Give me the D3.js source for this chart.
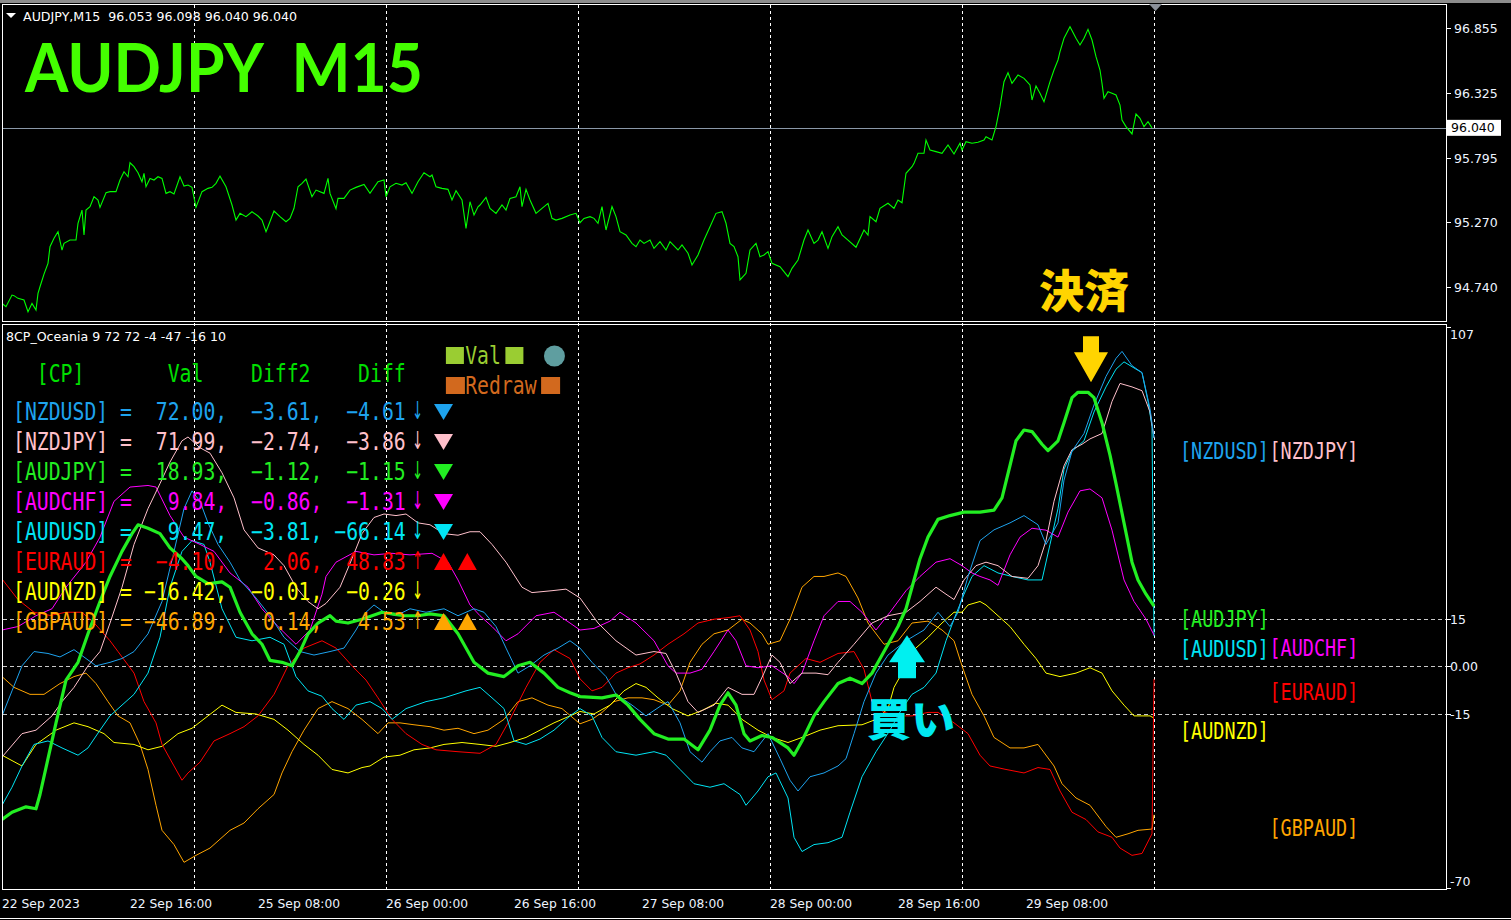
<!DOCTYPE html>
<html>
<head>
<meta charset="utf-8">
<script src="https://cdn.jsdelivr.net/npm/d3@7"></script>
<style>
html, body { margin: 0; padding: 0; background: #000; }
svg { display: block; }
text { white-space: pre; }
</style>
</head>
<body>
<div id="chart"></div>
<script>
// ---- price panel data (bar index, price) ----
const pricePoints = [[0,94.607],[2,94.580],[5,94.675],[6,94.670],[8,94.648],[11,94.634],[13,94.539],[15,94.607],[17,94.553],[18,94.689],[19,94.743],[21,94.846],[23,94.934],[24,95.070],[26,95.138],[28,95.192],[30,95.042],[31,95.097],[34,95.124],[37,95.124],[38,95.260],[40,95.369],[41,95.165],[42,95.369],[44,95.396],[46,95.478],[48,95.451],[49,95.391],[52,95.510],[54,95.519],[57,95.519],[59,95.614],[61,95.682],[63,95.641],[64,95.755],[66,95.723],[68,95.674],[70,95.600],[71,95.668],[72,95.559],[74,95.627],[76,95.614],[78,95.641],[80,95.627],[82,95.505],[84,95.519],[86,95.500],[89,95.641],[91,95.565],[93,95.573],[95,95.554],[97,95.391],[100,95.519],[103,95.546],[105,95.554],[107,95.587],[109,95.646],[112,95.559],[115,95.410],[117,95.287],[119,95.342],[122,95.315],[125,95.355],[128,95.320],[130,95.287],[132,95.192],[133,95.233],[136,95.361],[139,95.315],[142,95.274],[144,95.301],[146,95.383],[148,95.559],[150,95.587],[152,95.622],[155,95.478],[157,95.532],[161,95.505],[163,95.627],[164,95.505],[167,95.380],[168,95.464],[171,95.464],[174,95.532],[177,95.554],[181,95.578],[184,95.505],[188,95.600],[191,95.614],[192,95.478],[194,95.559],[197,95.587],[200,95.573],[202,95.592],[205,95.505],[208,95.600],[211,95.674],[214,95.641],[215,95.655],[217,95.559],[220,95.546],[223,95.538],[225,95.451],[227,95.527],[230,95.451],[232,95.219],[234,95.437],[236,95.328],[238,95.396],[239,95.410],[242,95.472],[244,95.383],[247,95.342],[250,95.410],[252,95.369],[254,95.464],[257,95.478],[259,95.559],[260,95.396],[262,95.538],[264,95.451],[267,95.342],[270,95.383],[273,95.423],[275,95.301],[277,95.287],[280,95.301],[284,95.328],[287,95.342],[289,95.266],
[291,95.301],[294,95.315],[296,95.301],[298,95.261],[300,95.397],[302,95.206],[305,95.397],[307,95.315],[309,95.192],[312,95.165],[315,95.097],[317,95.070],[319,95.124],[321,95.097],[324,95.124],[326,95.056],[329,95.111],[332,95.043],[334,95.111],[338,95.043],[340,95.084],[343,95.016],[345,94.920],[348,95.002],[351,95.124],[354,95.233],[357,95.342],[360,95.356],[362,95.261],[364,95.097],[366,95.070],[368,94.988],[369,94.798],[372,94.852],[374,95.043],[377,95.097],[379,94.988],[381,95.002],[383,95.029],[385,94.934],[389,94.907],[393,94.825],[395,94.893],[398,94.961],[401,95.124],[403,95.206],[406,95.097],[408,95.124],[410,95.192],[413,95.056],[415,95.152],[418,95.233],[420,95.165],[423,95.124],[427,95.065],[431,95.206],[433,95.165],[434,95.315],[437,95.274],[439,95.383],[443,95.424],[446,95.383],[448,95.451],[450,95.429],[452,95.669],[455,95.723],[456,95.750],[458,95.832],[461,95.832],[462,95.941],[464,95.859],[467,95.846],[470,95.832],[473,95.900],[476,95.826],[479,95.914],[480,95.859],[482,95.927],[485,95.914],[488,95.922],[491,95.941],[492,95.968],[495,95.941],[497,96.050],[499,96.213],[501,96.417],[503,96.490],[505,96.403],[508,96.471],[511,96.444],[514,96.390],[515,96.267],[517,96.382],[519,96.322],[521,96.254],[524,96.417],[526,96.512],[528,96.594],[529,96.662],[531,96.771],[534,96.866],[537,96.771],[539,96.716],[541,96.771],[543,96.844],[545,96.757],[547,96.621],[549,96.512],[550,96.403],[551,96.281],[553,96.335],[555,96.322],[557,96.308],[559,96.226],[560,96.104],[562,96.050],[565,95.990],[567,96.153],[569,96.118],[571,96.050],[573,96.090],[575,96.040]];

const priceTicks = [96.855, 96.325, 95.795, 95.270, 94.740];
const lastPrice = 96.040;
const headerText = 'AUDJPY,M15  96.053 96.098 96.040 96.040';

// ---- indicator series (bar index, value) ----
const sNZDUSD = [[0,-15.7],[5,-7.8],[10,0.1],[16,4.6],[23,4],[29,2.9],[36,5.2],[42,2.4],[47,0.1],[54,1.2],[60,2.4],[66,4.6],[73,10.2],[80,20.4],[86,36.2],[91,49.7],[95,55.3],[99,52],[103,45.2],[108,38.4],[114,32.8],[119,27.2],[127,21.5],[134,15.9],[141,9.1],[149,4.6],[156,3.5],[164,4.6],[171,5.7],[177,11.4],[182,17],[186,19.3],[191,17],[197,15.9],[204,18.1],[212,17],[221,18.1],[228,15.9],[236,18.1],[241,17],[247,12.5],[252,5.7],[258,-2.2],[264,0.1],[271,3.5],[278,5.7],[284,8],[289,5.7],[295,1.2],[302,-3.3],[307,-8.9],[315,-12.3],[322,-15.7],[330,-12.3],[333,-11.2],[339,-17.9],[344,-27],[350,-30.3],[354,-27],[359,-23.6],[365,-22.5],[370,-25.8],[376,-27],[383,-21.3],[389,-29.2],[394,-36],[398,-39.4],[404,-34.9],[411,-33.7],[418,-31.5],[422,-29.2],[426,-21.3],[431,-11.2],[437,-2.2],[443,3.5],[452,8],[461,11.4],[468,17],[474,12.5],[478,17],[483,28.3],[489,39.6],[496,43],[504,45.2],[511,47.5],[518,44.6],[522,38.4],[528,45.2],[531,58.7],[535,67.8],[541,73.4],[546,82.4],[552,91.4],[557,97.1],[560,99.3],[565,94.8],[570,92.6],[574,81.3],[576,72]];
const sNZDJPY = [[0,-28.7],[10,-21.3],[17,-20.2],[25,-15.7],[30,-11.2],[36,-6.7],[43,0.1],[49,4.6],[54,13.6],[60,24.9],[66,38.4],[73,49.7],[79,57.6],[84,64.4],[90,71.1],[93,72.3],[99,68.9],[104,67.2],[110,61],[116,53.1],[121,43],[128,37.3],[136,35.1],[141,31.7],[147,24.9],[153,20.4],[158,18.1],[162,19.8],[169,24.9],[175,33.9],[180,41.8],[186,46.9],[191,48],[197,47.5],[202,48],[208,45.2],[214,44.6],[221,41.8],[228,41.3],[234,42.4],[239,42.4],[245,38.4],[252,32.8],[260,24.9],[265,23.2],[275,23.8],[282,24.3],[289,21.5],[298,13.6],[307,8],[317,3.5],[326,4.6],[332,4],[337,-2.2],[343,-11.2],[348,-14.6],[356,-12.3],[363,-6.7],[370,-8.9],[376,-8.9],[381,-2.2],[385,3.5],[389,1.2],[394,-5.5],[400,-2.2],[407,-2.2],[413,-2.7],[418,1.2],[426,6.9],[435,13.6],[443,15.9],[452,17],[459,20.4],[467,24.9],[472,22.7],[476,21],[481,27.2],[487,31.7],[492,32.8],[498,31.7],[505,28.3],[513,27.7],[518,31.7],[522,39.6],[526,52],[531,63.2],[535,68.3],[540,70],[544,71.7],[550,73.4],[555,83.5],[559,89.2],[565,88.1],[570,86.9],[574,80.2],[576,72]];
const sAUDJPY = [[0,-48.4],[5,-46.1],[12,-44.4],[17,-45],[19,-40.5],[23,-29.2],[27,-17.9],[32,-4.4],[38,1.2],[43,10.2],[49,20.4],[54,28.3],[60,36.2],[65,41.8],[68,44.6],[73,43.5],[79,41.8],[84,37.3],[90,33.9],[93,31.7],[97,28.3],[103,26],[110,26.6],[114,24.9],[119,17],[125,10.2],[130,6.9],[134,1.8],[140,1.2],[145,0.1],[149,4.6],[153,10.2],[158,13.6],[164,15.9],[167,14.2],[173,13.6],[180,14.8],[190,17],[195,16.5],[201,15.9],[208,15.9],[214,16.5],[221,15.9],[228,10.2],[236,1.2],[243,-2.2],[251,-3.3],[258,0.1],[264,1.2],[271,-2.2],[278,-6.7],[284,-8.4],[289,-9.6],[300,-10],[307,-9.1],[313,-12.3],[319,-16.8],[326,-21.3],[333,-23],[341,-23],[348,-26.4],[354,-20.2],[359,-12.3],[363,-8.4],[367,-12.3],[371,-21.3],[374,-23.6],[380,-21.9],[385,-22.5],[393,-25.8],[396,-28.1],[400,-23.6],[406,-15.7],[411,-11.2],[418,-5.5],[424,-3.8],[430,-5.5],[435,-2.2],[441,4.6],[448,12.5],[452,18.1],[455,24.9],[459,33.9],[463,40.7],[468,46.3],[474,47.5],[481,48.6],[489,48.6],[496,49.2],[500,53.1],[504,63.3],[507,71.1],[511,74.5],[515,74],[520,70],[523,68],[528,71.1],[531,76.8],[535,84.7],[538,86.4],[543,86.4],[546,84.7],[550,76.8],[554,66.6],[557,57.6],[561,45.2],[565,32.8],[568,27.2],[572,22.7],[576,18.9]];
const sAUDCHF = [[0,11.4],[8,12.5],[17,15.9],[25,18.1],[32,24.9],[42,32.8],[49,40.7],[56,52],[64,56.5],[73,57],[77,56.5],[84,47.5],[91,40.7],[99,38.4],[106,36.2],[114,29.4],[123,24.9],[130,18.1],[138,12.5],[147,6.9],[154,11.4],[160,22.7],[162,28.3],[167,32.8],[177,36.2],[186,35.1],[195,35.6],[204,35.1],[215,35.6],[223,32.8],[228,27.2],[234,19.3],[239,15.9],[245,12.5],[252,8],[258,10.2],[267,15.9],[276,17],[284,13.6],[289,11.4],[296,11.9],[304,14.2],[309,17],[317,13.6],[326,8],[333,0.1],[337,-2.2],[344,-2.2],[350,-1],[356,4.6],[363,11.4],[367,8],[372,0.1],[378,-0.5],[385,0.1],[393,-3.3],[396,-5.5],[400,-2.2],[406,8],[411,15.9],[418,20.4],[424,20.4],[430,17],[437,11.4],[444,17],[452,23.8],[459,28.3],[467,32.8],[474,33.9],[480,31.7],[485,29.4],[489,28.3],[494,27.2],[498,25.5],[504,35.1],[509,40.7],[515,43.5],[522,42.9],[528,40.7],[533,48.6],[539,55.3],[544,55.9],[550,53.1],[555,42.9],[561,27.2],[566,20.4],[572,14.8],[576,9.8]];
const sAUDUSD = [[0,-43.9],[5,-38.2],[10,-31.5],[16,-24.7],[23,-23.6],[30,-25.8],[38,-28.1],[43,-25.8],[49,-20.2],[54,-15.7],[60,-12.3],[66,-8.9],[73,-2.2],[79,9.1],[84,24.9],[90,36.2],[95,39.6],[101,38.4],[104,32.8],[110,18.1],[117,9.1],[125,8],[134,9.1],[141,6.9],[147,-3.3],[153,-7.8],[160,-9.5],[165,-13.4],[171,-16.8],[177,-12.3],[184,-11.2],[190,-13.4],[195,-16.8],[202,-13.4],[212,-11.2],[221,-10],[232,-7.8],[239,-6.7],[245,-10],[251,-13.4],[256,-23.6],[262,-24.7],[269,-23],[276,-20.2],[284,-15.7],[289,-13.4],[295,-15.7],[300,-22.5],[307,-27],[317,-28.1],[326,-27],[332,-28.1],[339,-32.6],[346,-37.1],[354,-38.2],[361,-37.1],[369,-40.5],[372,-43.9],[378,-39.4],[383,-34.9],[387,-33.7],[393,-41.6],[396,-54],[400,-58.5],[406,-56.3],[413,-55.7],[420,-54],[424,-46.1],[430,-34.9],[437,-27],[444,-20.2],[450,-13.4],[455,-8.9],[461,-6.7],[467,-2.2],[472,8],[476,14.8],[481,22.7],[485,28.3],[491,31.7],[498,29.4],[505,28.3],[513,27.2],[520,27.2],[524,38.4],[528,49.7],[531,62.1],[535,67.8],[541,71.1],[546,80.2],[552,88.1],[557,93.7],[561,96],[567,93.7],[570,92.6],[573,83.5],[575,75.6],[576,9.5]];
const sEURAUD = [[0,27.5],[8,21],[16,17],[24,16],[32,17],[40,17],[47,13],[54,8],[58,4.6],[66,-2.2],[71,-11.2],[77,-17.9],[80,-24.7],[86,-31.5],[90,-36],[93,-33.7],[99,-30.3],[106,-23.6],[114,-21.3],[121,-19.1],[128,-15.7],[136,-8.9],[143,0.1],[151,5.7],[160,8],[167,5.7],[175,0.1],[182,-4.4],[188,-10],[195,-16.8],[202,-21.3],[210,-24.7],[217,-26.4],[228,-27],[239,-27.5],[247,-24.7],[254,-16.8],[262,-6.7],[269,1.2],[276,5.2],[284,2.4],[289,-4],[295,-7.8],[300,-6.7],[307,-2.2],[313,-0.5],[319,0.7],[326,3.5],[333,6.9],[341,10.2],[348,13.6],[356,14.8],[363,15.3],[369,15.9],[374,11.4],[378,4.6],[381,-4.4],[385,-10.6],[391,-7.8],[394,-2.2],[402,2.4],[409,1.2],[418,4],[426,4.6],[431,-1],[435,-11.2],[441,-14.6],[448,-15.7],[455,-15.7],[463,-14.6],[468,-14.6],[476,-17.9],[483,-21.3],[489,-28.1],[494,-31.5],[502,-32.6],[511,-33.7],[518,-32],[524,-32.6],[529,-39.4],[535,-46.1],[542,-48.4],[548,-52.3],[555,-54],[559,-57.4],[565,-59.7],[570,-59.1],[575,-52.9],[576,-4.1]];
const sAUDNZD = [[0,-28.1],[10,-31.5],[17,-24.7],[27,-20.2],[36,-17.9],[43,-19.1],[51,-21.3],[56,-24.1],[66,-24.7],[73,-26.4],[80,-25.3],[88,-21.3],[95,-19.6],[103,-15.7],[110,-12.3],[117,-14.6],[127,-15.1],[136,-16.8],[143,-20.2],[151,-24.7],[158,-28.1],[165,-32.6],[173,-33.7],[180,-32],[184,-31.5],[191,-28.7],[199,-28.1],[206,-26.4],[214,-25.8],[221,-24.7],[230,-24.1],[239,-24.7],[247,-25.3],[254,-24.1],[262,-22.5],[269,-20.2],[276,-17.9],[284,-15.7],[289,-14.3],[296,-15.1],[304,-12.3],[311,-7.8],[317,-5.5],[322,-6.7],[328,-10],[335,-13.4],[343,-15.7],[350,-14],[357,-11.7],[363,-12.3],[370,-16.8],[378,-20.2],[385,-22.5],[393,-24.1],[400,-22.5],[409,-20.2],[418,-18.8],[430,-18.5],[437,-16.8],[443,-13.4],[446,-6.7],[450,-2.2],[455,4.6],[463,9.1],[470,13.6],[476,17],[480,17],[483,19.3],[489,20.4],[492,19.3],[498,15.9],[504,12.5],[511,6.9],[517,2.4],[522,-2.2],[529,-3.3],[537,-2.2],[544,-0.5],[550,-2.2],[555,-7.8],[561,-12.3],[566,-15.7],[574,-15.7],[576,-16.4]];
const sGBPAUD = [[0,-3.3],[6,-6.7],[14,-8.9],[21,-8.9],[29,-5.5],[36,-3.3],[42,-2.2],[47,-5.5],[53,-11.2],[58,-15.7],[64,-17.9],[69,-24.7],[73,-32.6],[77,-43.9],[80,-51.8],[86,-56.3],[91,-61.9],[97,-59.7],[104,-57.4],[114,-51.8],[121,-49.5],[128,-45],[136,-40.5],[140,-33.7],[145,-27],[151,-20.2],[158,-13.4],[165,-11.2],[173,-13.4],[180,-16.8],[188,-21.3],[193,-17.9],[199,-17.9],[206,-18.5],[214,-19.1],[221,-20.2],[228,-19.6],[236,-21.3],[243,-20.2],[251,-16.8],[258,-11.2],[265,-10],[273,-12.3],[280,-13.4],[289,-18.2],[295,-16.8],[300,-14.6],[306,-11.2],[313,-10],[320,-10],[326,-10.6],[333,-12.3],[339,-7.8],[344,1.2],[350,6.9],[356,10.2],[363,11.4],[370,14.8],[374,13.6],[380,10.2],[383,6.9],[389,8],[394,14.8],[400,24.9],[406,28.3],[411,28.3],[418,29.4],[422,28.3],[428,21.5],[433,13.6],[441,6.9],[448,8],[455,13.6],[463,14.2],[470,11.4],[476,8],[480,0.1],[485,-8.9],[491,-15.7],[496,-22.5],[504,-25.8],[511,-25.8],[518,-24.7],[526,-31.5],[530,-37.1],[537,-41.6],[544,-43.9],[552,-50.6],[557,-54],[563,-52.9],[568,-51.8],[575,-51.4],[576,-46.9]];

// ---- table ----
const pairs = ['NZDUSD', 'NZDJPY', 'AUDJPY', 'AUDCHF', 'AUDUSD', 'EURAUD', 'AUDNZD', 'GBPAUD'];
const pairColors = ['#1ea3ee', '#ffc0cb', '#22ee22', '#ff00ff', '#00e4f4', '#ff0000', '#ffff00', '#ffa500'];
const vals = [72.00, 71.99, 18.93, 9.84, 9.47, -4.10, -16.42, -46.89];
const diff2 = [-3.61, -2.74, -1.12, -0.86, -3.81, 2.06, -0.01, 0.14];
const diffs = [-4.61, -3.86, -1.15, -1.31, -66.14, 48.83, -0.26, 4.53];
const markCount = [1, 1, 1, 1, 1, 2, 0, 2];
const series = [sNZDUSD, sNZDJPY, sAUDJPY, sAUDCHF, sAUDUSD, sEURAUD, sAUDNZD, sGBPAUD];
const drawOrder = [7, 6, 5, 4, 3, 1, 0, 2];

const indTicks = [107, 15, 0, -15, -70];
const indTickLabels = ['107', '15', '0.00', '-15', '-70'];
const levels = [15, 0, -15];
const indHeader = '8CP_Oceania 9 72 72 -4 -47 -16 10';

// ---- time axis (M15 bars, weekend skipped) ----
const timeBars = [0, 64, 128, 192, 256, 320, 384, 448, 512];
const timeLabels = ['22 Sep 2023', '22 Sep 16:00', '25 Sep 08:00', '26 Sep 00:00', '26 Sep 16:00', '27 Sep 08:00', '28 Sep 00:00', '28 Sep 16:00', '29 Sep 08:00'];
const dayBars = [96, 192, 288, 384, 480, 576];

const buyBar = 452, buyVal = 14.8;     // 買い
const exitBar = 543, exitVal = 86.4;   // 決済

const W = 1511, H = 920;
const uiFont = "'DejaVu Sans', Tahoma, sans-serif";
const monoFont = "'DejaVu Sans Mono', monospace";
const jpFont = "'Noto Sans CJK JP', sans-serif";

const x = d3.scaleLinear().domain([0, 576]).range([2, 1154]);
const yP = d3.scaleLinear().domain([94.455, 97.051]).range([322, 4]);
const yI = d3.scaleLinear().domain([-70, 107]).range([888, 327]);

const svg = d3.select('#chart').append('svg')
    .attr('width', W).attr('height', H)
    .style('background', '#000');

svg.append('rect').attr('x', 0).attr('y', 0).attr('width', W).attr('height', 3).attr('fill', '#8c8c8c');
svg.append('line').attr('x1', 0).attr('x2', W).attr('y1', 918.5).attr('y2', 918.5).attr('stroke', '#fff');

const defs = svg.append('defs');
defs.append('clipPath').attr('id', 'clipTop').append('rect')
    .attr('x', 3).attr('y', 5).attr('width', 1443).attr('height', 316);
defs.append('clipPath').attr('id', 'clipBot').append('rect')
    .attr('x', 3).attr('y', 326).attr('width', 1443).attr('height', 563);

// grid (day separators)
svg.append('g').selectAll('line').data(dayBars).enter().append('line')
    .attr('x1', d => Math.round(x(d)) + 0.5).attr('x2', d => Math.round(x(d)) + 0.5)
    .attr('y1', 5).attr('y2', 889)
    .attr('stroke', '#ffffff').attr('stroke-dasharray', '3,3');

// level lines
svg.append('g').selectAll('line').data(levels).enter().append('line')
    .attr('x1', 3).attr('x2', 1447)
    .attr('y1', d => Math.round(yI(d)) + 0.5).attr('y2', d => Math.round(yI(d)) + 0.5)
    .attr('stroke', '#c8c8c8').attr('stroke-dasharray', '4,3');

// last price line
svg.append('line').attr('x1', 3).attr('x2', 1447)
    .attr('y1', Math.round(yP(lastPrice)) + 0.5).attr('y2', Math.round(yP(lastPrice)) + 0.5)
    .attr('stroke', '#8a98a8');

// price line
svg.append('path').datum(pricePoints)
    .attr('clip-path', 'url(#clipTop)')
    .attr('fill', 'none').attr('stroke', '#00ff00').attr('stroke-width', 1.1)
    .attr('d', d3.line().x(d => x(d[0])).y(d => yP(d[1])));

// indicator lines
const gl = svg.append('g').attr('clip-path', 'url(#clipBot)');
drawOrder.forEach(i => {
    gl.append('path').datum(series[i])
        .attr('fill', 'none')
        .attr('stroke', pairColors[i])
        .attr('stroke-width', i === 2 ? 3.2 : 1)
        .attr('stroke-linejoin', 'round')
        .attr('d', d3.line().x(d => x(d[0])).y(d => yI(d[1])));
});

// panel frames
svg.append('rect').attr('x', 2.5).attr('y', 4.5).attr('width', 1444).attr('height', 317)
    .attr('fill', 'none').attr('stroke', '#fff');
svg.append('rect').attr('x', 2.5).attr('y', 324.5).attr('width', 1444).attr('height', 565)
    .attr('fill', 'none').attr('stroke', '#fff');

// chart shift marker
svg.append('path').attr('d', 'M1149,4 L1162,4 L1155.5,11 Z').attr('fill', '#8a8f98');

// right price axis
const pt = svg.append('g');
priceTicks.forEach(p => {
    const yy = Math.round(yP(p)) + 0.5;
    pt.append('line').attr('x1', 1447).attr('x2', 1451).attr('y1', yy).attr('y2', yy).attr('stroke', '#fff');
    pt.append('text').attr('x', 1454).attr('y', yy).attr('dy', '0.36em')
        .attr('fill', '#eef4ff').style('font', `12.5px ${uiFont}`).text(d3.format('.3f')(p));
});
const ly = yP(lastPrice);
pt.append('rect').attr('x', 1447).attr('y', ly - 8).attr('width', 54).attr('height', 16).attr('fill', '#fff');
pt.append('text').attr('x', 1451).attr('y', ly).attr('dy', '0.36em')
    .attr('fill', '#000').style('font', `12.5px ${uiFont}`).text(d3.format('.3f')(lastPrice));

// right indicator axis
indTicks.forEach((v, k) => {
    const yy = Math.round(yI(v)) + 0.5;
    let ty = yy;
    if (v === d3.max(indTicks)) ty = yy + 7;
    if (v === d3.min(indTicks)) ty = yy - 7;
    pt.append('line').attr('x1', 1447).attr('x2', 1451).attr('y1', yy).attr('y2', yy).attr('stroke', '#fff');
    pt.append('text').attr('x', 1450).attr('y', ty).attr('dy', '0.36em')
        .attr('fill', '#eef4ff').style('font', `12.5px ${uiFont}`).text(indTickLabels[k]);
});

// time axis
svg.append('g').selectAll('text').data(timeBars).enter().append('text')
    .attr('x', d => x(d)).attr('y', 908)
    .attr('fill', '#eef4ff').style('font', `12.3px ${uiFont}`)
    .text((d, i) => timeLabels[i]);

// headers
svg.append('path').attr('d', 'M6,13 L16,13 L11,18 Z').attr('fill', '#fff');
svg.append('text').attr('x', 23).attr('y', 21).attr('fill', '#fff')
    .attr('textLength', 274).attr('lengthAdjust', 'spacingAndGlyphs')
    .style('font', `11.5px ${uiFont}`).text(headerText);
svg.append('text').attr('x', 25).attr('y', 92).attr('fill', '#44ff00')
    .attr('textLength', 398).attr('lengthAdjust', 'spacingAndGlyphs')
    .style('font', `bold 67px Lato, 'Open Sans', sans-serif`).text('AUDJPY  M15');
svg.append('text').attr('x', 6).attr('y', 341).attr('fill', '#fff')
    .attr('textLength', 220).attr('lengthAdjust', 'spacingAndGlyphs')
    .style('font', `12px ${uiFont}`).text(indHeader);

// table drawn in character cells (tall narrow gothic look: stretched vertically)
const cw = 11.9, tx0 = 13;
const tg = svg.append('g');
function stretch(sel, y, sy) {
    sel.attr('transform', `translate(0,${y}) scale(1,${sy}) translate(0,${-y})`);
}
function cell(txt, col, y, color) {
    const t = tg.append('text').attr('x', tx0 + col * cw).attr('y', y)
        .attr('fill', color)
        .attr('textLength', txt.length * cw).attr('lengthAdjust', 'spacingAndGlyphs')
        .style('font', `19.6px ${monoFont}`).text(txt);
    stretch(t, y, 1.24);
}
const f2 = v => d3.format('.2f')(v).replace('-', '\u2212');
const headColor = '#00e000';
cell('[CP]', 2, 382, headColor);
cell('Val', 13, 382, headColor);
cell('Diff2', 20, 382, headColor);
cell('Diff', 29, 382, headColor);

pairs.forEach((p, i) => {
    const y = 420 + i * 30, c = pairColors[i];
    cell('[' + p + ']', 0, y, c);
    cell('=', 9, y, c);
    const v = f2(vals[i]) + ',';
    cell(v, 18 - v.length, y, c);
    const d2 = f2(diff2[i]) + ',';
    cell(d2, 26 - d2.length, y, c);
    const d = f2(diffs[i]);
    cell(d, 33 - d.length, y, c);
    const a = tg.append('text').attr('x', tx0 + 34 * cw).attr('y', y).attr('text-anchor', 'middle')
        .attr('fill', c).style('font', `13px ${uiFont}`)
        .text(diffs[i] < 0 ? '\u2193' : '\u2191');
    stretch(a, y + 1, 1.9);
    for (let k = 0; k < markCount[i]; k++) {
        const mx = tx0 + (35 + 2 * k) * cw + 4.5;
        const dpath = diffs[i] < 0
            ? `M${mx},${y - 16} L${mx + 19},${y - 16} L${mx + 9.5},${y} Z`
            : `M${mx},${y} L${mx + 19},${y} L${mx + 9.5},${y - 17} Z`;
        tg.append('path').attr('d', dpath).attr('fill', c);
    }
});

// legend
const yg = '#9acd32', ch = '#d2691e';
tg.append('rect').attr('x', tx0 + 36 * cw + 4.5).attr('y', 347).attr('width', 18).attr('height', 17).attr('fill', yg);
cell('Val', 38, 364, yg);
tg.append('rect').attr('x', tx0 + 41 * cw + 4.5).attr('y', 347).attr('width', 18).attr('height', 17).attr('fill', yg);
tg.append('circle').attr('cx', tx0 + 45.5 * cw).attr('cy', 356).attr('r', 10.5).attr('fill', '#5f9ea0');
tg.append('rect').attr('x', tx0 + 36 * cw + 4.5).attr('y', 377).attr('width', 19).attr('height', 17).attr('fill', ch);
cell('Redraw', 38, 394, ch);
tg.append('rect').attr('x', tx0 + 44 * cw + 4.5).attr('y', 377).attr('width', 19).attr('height', 17).attr('fill', ch);

// right side labels, alternating columns by rank
const rank = d3.range(pairs.length).sort((a, b) => vals[b] - vals[a]);
rank.forEach((i, r) => {
    const t = '[' + pairs[i] + ']';
    const ty = yI(vals[i]) + 21;
    const lbl = svg.append('text').attr('x', 1180 + (r % 2) * 89.5).attr('y', ty)
        .attr('fill', pairColors[i])
        .attr('textLength', 8 * 11.1).attr('lengthAdjust', 'spacingAndGlyphs')
        .style('font', `18.3px ${monoFont}`).text(t);
    stretch(lbl, ty, 1.22);
});

// buy arrow + text
const bx = x(buyBar) + 1, by = yI(buyVal) + 16;
svg.append('path')
    .attr('d', `M${bx},${by} L${bx + 18},${by + 27} L${bx + 9},${by + 27} L${bx + 9},${by + 43} L${bx - 9},${by + 43} L${bx - 9},${by + 27} L${bx - 18},${by + 27} Z`)
    .attr('fill', '#00f0f0');
svg.append('text').attr('x', 867).attr('y', 736).attr('fill', '#00e8f0')
    .style('font', `900 44px ${jpFont}`).text('買い');

// exit arrow + text
const ex = x(exitBar) + 3, ey = yI(exitVal) - 10;
svg.append('path')
    .attr('d', `M${ex},${ey} L${ex - 17},${ey - 30} L${ex - 8},${ey - 30} L${ex - 8},${ey - 46} L${ex + 8},${ey - 46} L${ex + 8},${ey - 30} L${ex + 17},${ey - 30} Z`)
    .attr('fill', '#ffd400');
svg.append('text').attr('x', 1039).attr('y', 308).attr('fill', '#ffd400')
    .style('font', `900 45px ${jpFont}`).text('決済');
</script>
</body>
</html>
